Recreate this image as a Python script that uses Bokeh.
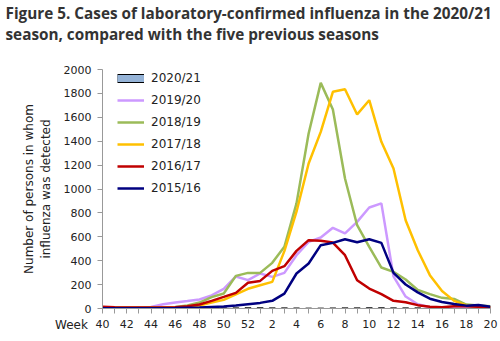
from bokeh.plotting import figure
from bokeh.models import Range1d, FixedTicker, Label, Legend, LegendItem
from bokeh.embed import file_html
from bokeh.resources import INLINE

weeks = [40, 41, 42, 43, 44, 45, 46, 47, 48, 49, 50, 51, 52,
         1, 2, 3, 4, 5, 6, 7, 8, 9, 10, 11, 12, 13, 14, 15, 16, 17, 18, 19, 20]

s2020_21 = [2, 2, 2, 2, 2, 2, 2, 2, 3, 3, 5, 5, 6,
            6, 5, 5, 4, 3, 3, 4, 5, 5, 6, 6, 5, 5, 5, 4, 4, 4, 4, 4, 4]
s2019_20 = [5, 5, 5, 5, 12, 36, 50, 62, 75, 110, 165, 268, 237,
            293, 265, 298, 446, 558, 594, 675, 628, 725, 845, 880, 268, 100, 36, 10, 5, 5, 5, 5, 5]
s2018_19 = [8, 8, 8, 8, 8, 10, 12, 25, 50, 95, 125, 273, 298,
            298, 382, 516, 880, 1465, 1888, 1666, 1088, 697, 515, 343, 306, 243, 155, 120, 89, 80, 33, 25, 19]
s2017_18 = [5, 5, 5, 5, 5, 5, 8, 12, 25, 50, 72, 118, 165,
            195, 223, 480, 810, 1213, 1478, 1813, 1835, 1624, 1743, 1395, 1172, 739, 488, 279, 147, 64, 25, 15, 10]
s2016_17 = [14, 10, 8, 8, 8, 8, 10, 18, 33, 64, 97, 131, 215,
            231, 315, 354, 482, 572, 566, 552, 446, 237, 167, 120, 64, 53, 28, 14, 10, 19, 19, 14, 10]
s2015_16 = [3, 3, 3, 3, 3, 3, 4, 6, 8, 12, 16, 25, 36,
            47, 64, 125, 293, 377, 530, 549, 580, 555, 580, 549, 298, 201, 135, 82, 54, 38, 24, 30, 15]

series_names = ["2019/20", "2018/19", "2017/18", "2016/17", "2015/16"]
series_values = [s2019_20, s2018_19, s2017_18, s2016_17, s2015_16]
series_colors = ["#CC99FF", "#9BBB59", "#FFC000", "#C00000", "#000080"]

title_lines = ["Figure 5. Cases of laboratory-confirmed influenza in the 2020/21",
               "season, compared with the five previous seasons"]

idx = list(range(len(weeks)))
nan = float("nan")

p = figure(width=500, height=341, output_backend="svg", toolbar_location=None,
           x_range=Range1d(0, len(weeks) - 1), y_range=Range1d(0, 2000),
           min_border_left=102, min_border_right=10, min_border_top=69, min_border_bottom=33)
p.title.text = ""
p.title.standoff = 0

p.outline_line_color = None
p.xgrid.grid_line_color = None
p.ygrid.grid_line_color = None
p.background_fill_color = "white"
p.border_fill_color = "white"

items = []
p.vbar(x=idx, top=s2020_21, width=0.5, bottom=0,
       fill_color="#95B3D7", line_color="black", line_width=1)
# legend-only swatch (NaN data: nothing drawn in the plot area)
leg_a = p.line([nan], [nan], line_color="black", line_width=9)
leg_b = p.line([nan], [nan], line_color="#95B3D7", line_width=7)
items.append(LegendItem(label="2020/21", renderers=[leg_a, leg_b]))
for name, vals, col in zip(series_names, series_values, series_colors):
    r = p.line(idx, vals, line_color=col, line_width=2.5)
    items.append(LegendItem(label=name, renderers=[r]))

legend = Legend(items=items, location=(15, 112))
legend.border_line_color = None
legend.background_fill_alpha = 0
legend.label_text_font = "DejaVu Sans"
legend.label_text_font_size = "12px"
legend.label_text_color = "#222222"
legend.glyph_width = 27
legend.glyph_height = 16
legend.label_height = 16
legend.spacing = 6
legend.padding = 2
legend.margin = 0
legend.label_standoff = 7
p.add_layout(legend)

# x axis
xa = p.xaxis[0]
xa.ticker = FixedTicker(ticks=idx)
xa.major_label_overrides = {i: (str(w) if i % 2 == 0 else "") for i, w in zip(idx, weeks)}
xa.axis_line_color = "#999999"
xa.major_tick_line_color = "#999999"
xa.major_tick_out = 5
xa.major_tick_in = 0
xa.minor_tick_line_color = None
xa.major_label_text_font = "DejaVu Sans"
xa.major_label_text_font_size = "11px"
xa.major_label_text_color = "#222222"
xa.major_label_standoff = 6

ya = p.yaxis[0]
ya.ticker = FixedTicker(ticks=list(range(0, 2001, 200)))
ya.axis_line_color = "#999999"
ya.major_tick_line_color = "#999999"
ya.major_tick_out = 5
ya.major_tick_in = 0
ya.minor_tick_line_color = None
ya.major_label_text_font = "DejaVu Sans"
ya.major_label_text_font_size = "11px"
ya.major_label_text_color = "#222222"
ya.major_label_standoff = 6
ya.axis_label = "Number of persons in whom\ninfluenza was detected"
ya.axis_label_text_font = "DejaVu Sans"
ya.axis_label_text_font_size = "12px"
ya.axis_label_text_font_style = "normal"
ya.axis_label_text_color = "#222222"
ya.axis_label_standoff = 8

# Texts outside the frame are put in a side panel so that they are not clipped;
# their positions are given through the plot's own scales.
week_lbl = Label(x=-1.2, y=-142, text="Week",
                 text_align="right", text_baseline="middle",
                 text_font="DejaVu Sans", text_font_size="12px", text_color="#222222")
p.add_layout(week_lbl, "above")

for line_text, ty in zip(title_lines, [2469, 2301]):
    tl = Label(x=-8.0, y=ty, text=line_text, text_align="left", text_baseline="middle",
               text_font="Open Sans", text_font_size="15.3px", text_font_style="bold",
               text_color="#333333")
    p.add_layout(tl, "above")

open("out.html", "w").write(file_html(p, INLINE))
